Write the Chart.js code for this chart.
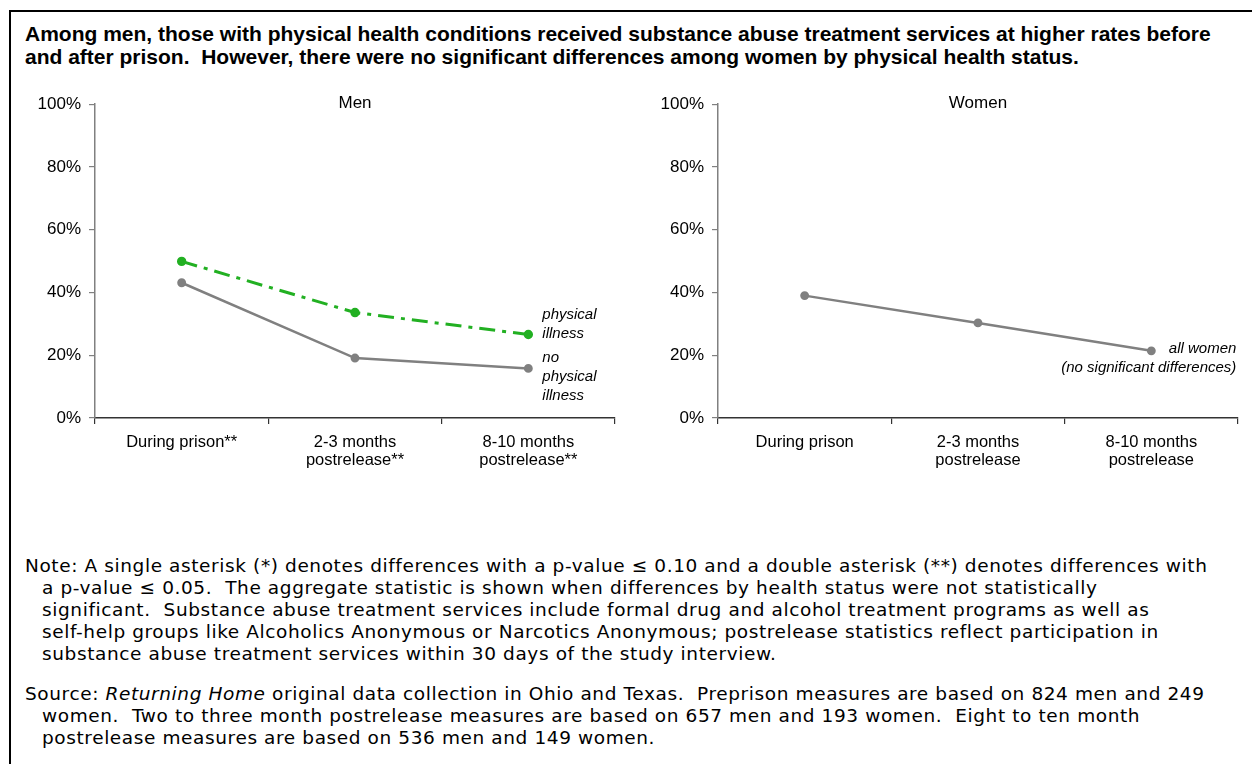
<!DOCTYPE html>
<html>
<head>
<meta charset="utf-8">
<script src="https://cdn.jsdelivr.net/npm/chart.js@4.4.1/dist/chart.umd.min.js"></script>
<style>
body{margin:0;background:#fff;width:1252px;height:764px;overflow:hidden;position:relative;font-family:"Liberation Sans",Arial,sans-serif;}
#frame{position:absolute;left:9px;top:10px;width:1300px;height:800px;border-left:2px solid #000;border-top:2px solid #000;}
#title{position:absolute;left:25px;top:22px;font-weight:bold;font-size:21px;line-height:23px;color:#000;white-space:nowrap;}
.wrap{position:absolute;top:86px;width:630px;height:400px;}
#note,#source{position:absolute;left:25px;font-family:"DejaVu Sans",sans-serif;font-size:18.5px;letter-spacing:0.6px;line-height:22px;color:#000;white-space:nowrap;}
#note{top:555px;}
#source{top:683px;}
.ind{padding-left:17px;}
</style>
</head>
<body>
<div id="frame"></div>
<div id="title">Among men, those with physical health conditions received substance abuse treatment services at higher rates before<br>and after prison.&nbsp; However, there were no significant differences among women by physical health status.</div>

<div class="wrap" style="left:0px"><canvas id="menChart" width="630" height="400"></canvas></div>
<div class="wrap" style="left:623px"><canvas id="womenChart" width="630" height="400"></canvas></div>

<div id="note">Note: A single asterisk (*) denotes differences with a p-value ≤ 0.10 and a double asterisk (**) denotes differences with<br>
<span class="ind">a p-value ≤ 0.05.&nbsp; The aggregate statistic is shown when differences by health status were not statistically</span><br>
<span class="ind">significant.&nbsp; Substance abuse treatment services include formal drug and alcohol treatment programs as well as</span><br>
<span class="ind">self-help groups like Alcoholics Anonymous or Narcotics Anonymous; postrelease statistics reflect participation in</span><br>
<span class="ind">substance abuse treatment services within 30 days of the study interview.</span></div>

<div id="source">Source: <i>Returning Home</i> original data collection in Ohio and Texas.&nbsp; Preprison measures are based on 824 men and 249<br>
<span class="ind">women.&nbsp; Two to three month postrelease measures are based on 657 men and 193 women.&nbsp; Eight to ten month</span><br>
<span class="ind">postrelease measures are based on 536 men and 149 women.</span></div>

<script>
// DATA

const menLabels = [["During prison**"],["2-3 months","postrelease**"],["8-10 months","postrelease**"]];
const womenLabels = [["During prison"],["2-3 months","postrelease"],["8-10 months","postrelease"]];
const menPhysical = [49.9, 33.6, 26.6];
const menNoPhysical = [43.1, 19.1, 15.8];
const allWomen = [39.0, 30.3, 21.4];
const yTicks = [0, 20, 40, 60, 80, 100];

Chart.defaults.font.family = '"Liberation Sans", Arial, sans-serif';
Chart.defaults.color = "#000";
Chart.defaults.animation = false;

// text beside the last point of each line + panel heading
const endLabels = {
id:"endLabels",
afterDatasetsDraw(chart, args, opts){
const ctx = chart.ctx;
ctx.save();
ctx.font = "italic 15px \"Liberation Sans\", Arial, sans-serif";
ctx.fillStyle = "#000";
ctx.textBaseline = "middle";
(opts.items || []).forEach(function(it){
const meta = chart.getDatasetMeta(it.dataset);
const pt = meta.data[meta.data.length-1];
ctx.textAlign = it.align || "left";
it.lines.forEach(function(line, i){
ctx.fillText(line, pt.x + it.dx, pt.y + it.dy + i*19);
});
});
ctx.font = "17px \"Liberation Sans\", Arial, sans-serif";
ctx.textAlign = "center";
const a = chart.chartArea;
ctx.fillText(opts.heading, (a.left + a.right)/2, a.top - 1);
ctx.restore();
}
};

function makeOptions(heading, items){
return {
responsive:false,
layout:{padding:{top:14,right:15,bottom:0,left:0}},
plugins:{
legend:{display:false},
tooltip:{enabled:false},
endLabels:{heading:heading, items:items}
},
scales:{
x:{
offset:true,
grid:{offset:true,drawOnChartArea:false,tickLength:6,color:"#333",lineWidth:1.2},
border:{color:"#333",width:1.5},
ticks:{font:{size:16.5,lineHeight:1.1},padding:9,maxRotation:0},
afterFit(s){ s.height = 68; }
},
y:{
min:0,max:100,
afterBuildTicks(s){ s.ticks = yTicks.map(v => ({value:v})); },
grid:{drawOnChartArea:false,tickLength:6,color:"#808080",lineWidth:1.2},
border:{color:"#808080",width:1.5},
ticks:{font:{size:17},padding:8,callback:v => v + "%"},
afterFit(s){ s.width = 95; }
}
}
};
}

// MEN

new Chart(
document.getElementById("menChart"),
{
type:"line",
data:{
labels:menLabels,
datasets:[{
label:"physical illness",
data:menPhysical,
borderColor:"#22b022",
backgroundColor:"#22b022",
borderWidth:3,
borderDash:[16,7,4,7],
pointRadius:3.2,
tension:0
},{
label:"no physical illness",
data:menNoPhysical,
borderColor:"#808080",
backgroundColor:"#808080",
borderWidth:2.5,
pointRadius:3.2,
tension:0
}]
},
options:makeOptions("Men",[
{dataset:0,dx:14,dy:-20,lines:["physical","illness"]},
{dataset:1,dx:14,dy:-11,lines:["no","physical","illness"]}
])
,
plugins:[endLabels]
}
);

// WOMEN

new Chart(
document.getElementById("womenChart"),
{
type:"line",
data:{
labels:womenLabels,
datasets:[{
label:"all women",
data:allWomen,
borderColor:"#808080",
backgroundColor:"#808080",
borderWidth:2.5,
pointRadius:3.2,
tension:0
}]
},
options:makeOptions("Women",[
{dataset:0,dx:85,dy:-2,align:"right",lines:["all women","(no significant differences)"]}
])
,
plugins:[endLabels]
}
);
</script>
</body>
</html>
